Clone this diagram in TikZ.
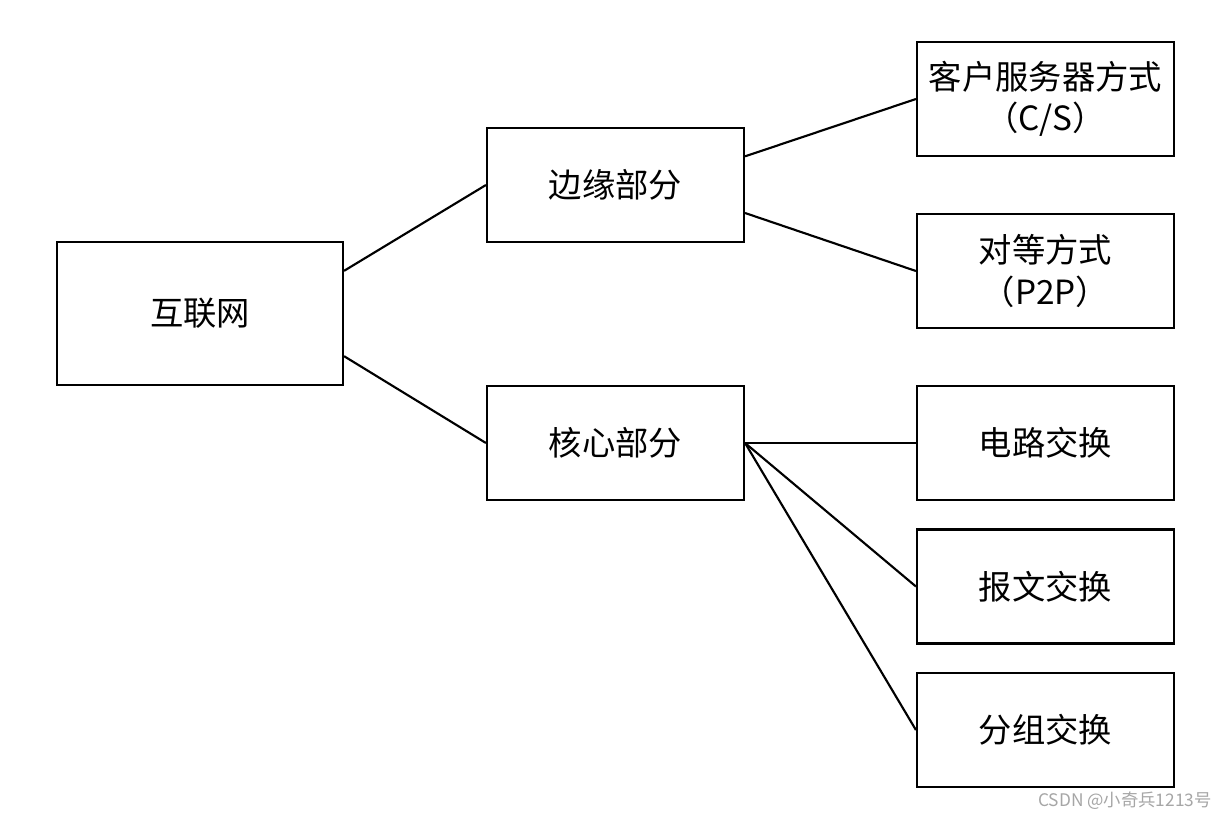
\documentclass[tikz,border=0pt]{standalone}
\usepackage{fontspec}
\setmainfont{Noto Sans CJK SC}
\begin{document}
\begin{tikzpicture}[x=0.75pt,y=-0.75pt,
  box/.style={draw,line width=1.6pt,minimum width=257*0.75pt,minimum height=114*0.75pt,align=center,font=\fontsize{25}{31}\selectfont,inner sep=0pt},
  link/.style={line width=1.6pt}]
\fill[white] (0,0) rectangle (1228,819);
\useasboundingbox (0,0) rectangle (1228,819);
\node[box,minimum width=286*0.75pt,minimum height=143*0.75pt] (net) at (200,313.5) {互联网};
\node[box] (edge) at (615.5,185) {边缘部分};
\node[box] (core) at (615.5,443) {核心部分};
\node[box] (cs) at (1045.5,99) {客户服务器方式\\（C/S）};
\node[box] (p2p) at (1045.5,271) {对等方式\\（P2P）};
\node[box] (circ) at (1045.5,443) {电路交换};
\node[box] (msg) at (1045.5,586.5) {报文交换};
\node[box] (pkt) at (1045.5,730) {分组交换};
\node[anchor=south east,text=gray!70,font=\fontsize{13}{15}\selectfont,inner sep=0pt] (wm) at (1212,810) {CSDN @小奇兵1213号};
\draw[link] ([yshift=32pt]net.east) -- (edge.west);
\draw[link] ([yshift=-32pt]net.east) -- (core.west);
\draw[link] ([yshift=21.5pt]edge.east) -- (cs.west);
\draw[link] ([yshift=-21pt]edge.east) -- (p2p.west);
\draw[link] (core.east) -- (circ.west);
\draw[link] (core.east) -- (msg.west);
\draw[link] (core.east) -- (pkt.west);
\end{tikzpicture}
\end{document}
